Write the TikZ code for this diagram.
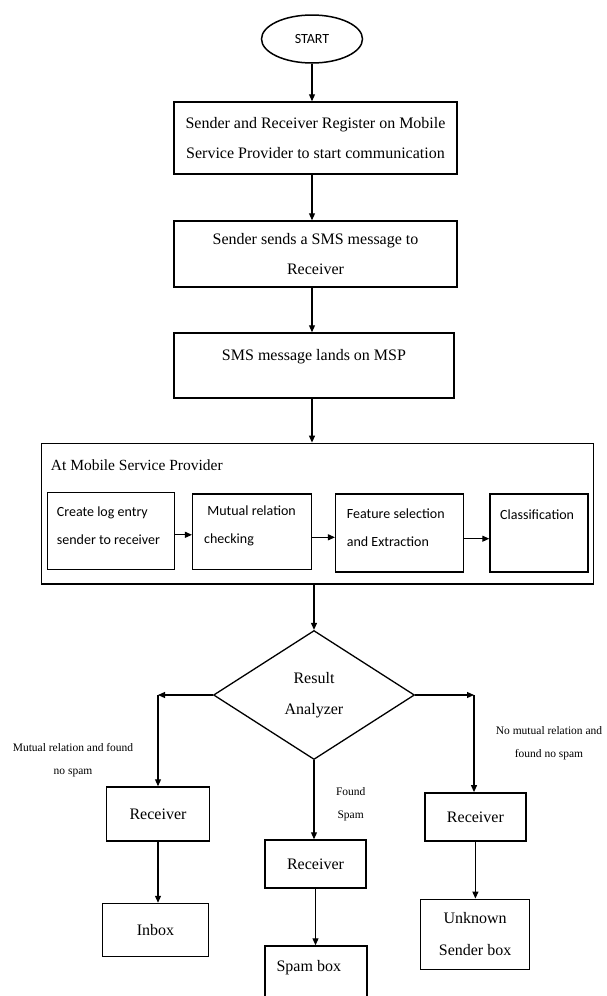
\documentclass[tikz,border=0pt]{standalone}
\usepackage{fontspec}
\setmainfont{Liberation Serif}
\newfontfamily\calfont{Carlito}
\usetikzlibrary{arrows.meta,shapes.geometric,calc}
\begin{document}
\begin{tikzpicture}[x=1pt,y=-1pt,
 box/.style={draw,line width=1.5pt,rectangle,inner sep=0pt,align=center,font=\fontsize{16}{30}\selectfont},
 sub/.style={draw,line width=1.5pt,rectangle,inner sep=0pt},
 subtxt/.style={inner sep=0pt,anchor=north west,align=left,font=\calfont\fontsize{14}{27.7}\selectfont},
 arr/.style={line width=1.1pt,-{Triangle[length=7pt,width=6pt]}},
 lbl/.style={inner sep=0pt,align=center,font=\fontsize{11.5}{22.5}\selectfont},
]
\useasboundingbox (0,0) rectangle (606,996);
\clip (0,0) rectangle (606,996);

\node[ellipse,draw,line width=1.5pt,minimum width=101pt,minimum height=48pt,inner sep=0pt,font=\calfont\fontsize{14}{17}\selectfont] (start) at (312,39) {START};
\node[box,minimum width=283pt,minimum height=72pt] (b1) at (315.5,138) {Sender and Receiver Register on Mobile\\Service Provider to start communication};
\node[box,minimum width=283pt,minimum height=66pt] (b2) at (315.5,254) {Sender sends a SMS message to\\Receiver};
\node[box,minimum width=280pt,minimum height=65pt,text height=11pt,text depth=21pt] (b3) at (314,365.5) {SMS message lands on MSP};

\node[sub,minimum width=551.6pt,minimum height=140.7pt] (msp) at (317.5,513.7) {};
\node[inner sep=0pt,anchor=west,font=\fontsize{15.5}{18}\selectfont] (msptitle) at (50.7,465.5) {At Mobile Service Provider};

\node[sub,minimum width=127pt,minimum height=77pt] (s1) at (110.8,530.8) {};
\node[sub,minimum width=119pt,minimum height=75.3pt] (s2) at (252.2,531.7) {};
\node[sub,minimum width=127.6pt,minimum height=77.7pt] (s3) at (399.5,532.9) {};
\node[sub,minimum width=97.7pt,minimum height=77.7pt] (s4) at (538.9,532.9) {};
\node[subtxt] (t1) at (56.7,507) {Create log entry\\sender to receiver};
\node[subtxt] (t2) at (204,506) {\ Mutual relation\\checking};
\node[subtxt] (t3) at (346.7,509) {Feature selection\\and Extraction};
\node[subtxt] (t4) at (500,510) {Classification};

\draw[arr] ([yshift=-4pt]s1.east) -- ([yshift=-4pt]s1.east -| s2.west);
\draw[arr] ([yshift=-5.6pt]s2.east) -- ([yshift=-5.6pt]s2.east -| s3.west);
\draw[arr] ([yshift=-5.8pt]s3.east) -- ([yshift=-5.8pt]s3.east -| s4.west);

\node[diamond,draw,line width=1.3pt,minimum width=201pt,minimum height=129pt,inner sep=0pt,align=center,font=\fontsize{16}{31}\selectfont] (dia) at (314,695) {Result\\Analyzer};

\draw[arr] (start.south) -- (start.south |- b1.north);
\draw[arr] (b1.south -| start.south) -- (b2.north -| start.south);
\draw[arr] (b2.south -| start.south) -- (b3.north -| start.south);
\draw[arr] (b3.south -| start.south) -- (msp.north -| start.south);
\draw[arr] (msp.south -| dia.north) -- (dia.north);

\node[box,minimum width=103pt,minimum height=54pt] (r1) at (158,814) {Receiver};
\node[box,minimum width=106pt,minimum height=53pt] (inbox) at (155.5,930) {Inbox};
\node[box,minimum width=101pt,minimum height=48pt] (r2) at (315.5,864) {Receiver};
\node[box,minimum width=102pt,minimum height=65pt] (spam) at (316,978.5) {};
\node[inner sep=0pt,anchor=west,font=\fontsize{16}{30}\selectfont] (spamtxt) at (276.4,968) {Spam box};
\node[box,minimum width=100.7pt,minimum height=48.3pt] (r3) at (475.4,817) {Receiver};
\node[box,minimum width=109pt,minimum height=70pt,font=\fontsize{16}{31.7}\selectfont] (unk) at (475.1,934.3) {Unknown\\Sender box};

\coordinate (cl) at (158,695);
\coordinate (cr) at (474,695);
\draw[arr] (dia.west) -- (cl);
\draw[arr] (cl) -- (cl |- r1.north);
\draw[arr] (r1.south) -- (r1.south |- inbox.north);
\draw[arr] (dia.south) -- (dia.south |- r2.north);
\draw[arr] (r2.south) -- (r2.south |- spam.north);
\draw[arr] (dia.east) -- (cr);
\draw[arr] (cr) -- (cr |- r3.north);
\draw[arr] (r3.south) -- (r3.south |- unk.north);

\node[lbl] (lm) at (73,760) {Mutual relation and found\\no spam};
\node[lbl] (lf) at (350.7,804) {Found\\Spam};
\node[lbl] (ln) at (549,743.4) {No mutual relation and\\found no spam};
\end{tikzpicture}
\end{document}
